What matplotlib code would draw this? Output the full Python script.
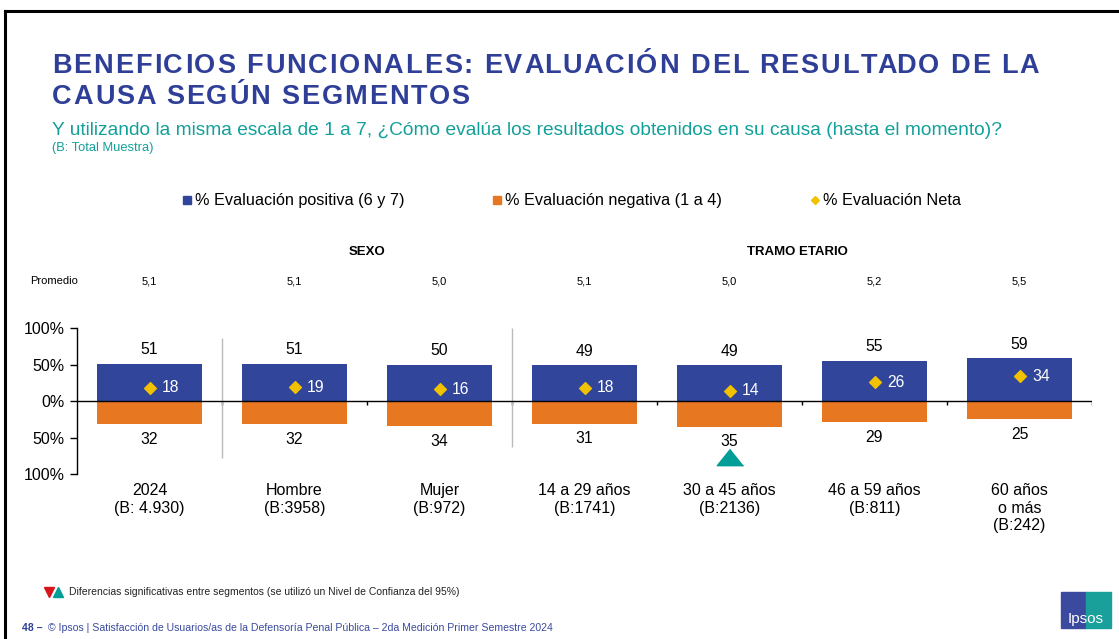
import matplotlib
matplotlib.use("Agg")
import matplotlib.pyplot as plt
import matplotlib.transforms as mtransforms
from matplotlib.lines import Line2D
from matplotlib.patches import Rectangle

plt.rcParams['font.family'] = ['Liberation Sans', 'DejaVu Sans']

# Data
categories = ["2024\n(B: 4.930)", "Hombre\n(B:3958)", "Mujer\n(B:972)",
              "14 a 29 años\n(B:1741)", "30 a 45 años\n(B:2136)",
              "46 a 59 años\n(B:811)", "60 años\no más\n(B:242)"]
positive = [51, 51, 50, 49, 49, 55, 59]
negative = [32, 32, 34, 31, 35, 29, 25]
net = [18, 19, 16, 18, 14, 26, 34]
promedio = ["5,1", "5,1", "5,0", "5,1", "5,0", "5,2", "5,5"]
significance = ["", "", "", "", "up", "", ""]
yticks = [-100, -50, 0, 50, 100]
ytick_labels = ["100%", "50%", "0%", "50%", "100%"]

BLUE = "#31469b"
ORANGE = "#e87722"
YELLOW = "#f2c200"
TITLE_BLUE = "#2f3f98"
TEAL = "#12a09a"

W, H = 1119, 639
fig = plt.figure(figsize=(W / 100, H / 100), dpi=100)
renderer = fig.canvas.get_renderer()


def fx(px):
    return px / W


def fy(py):
    return 1 - py / H


def text_width(s, **kw):
    t = fig.text(0, 0, s, **kw)
    w = t.get_window_extent(renderer).width
    t.remove()
    return w


def spaced_text(x, y, s, spacing, **kw):
    """draw text with extra letter spacing (pixels)"""
    ref = text_width("I", **kw)
    for k, ch in enumerate(s):
        if ch == " ":
            continue
        off = text_width(s[:k] + "I", **kw) - ref if k else 0
        fig.text(fx(x + off + k * spacing), fy(y), ch, va="center", **kw)


# slide frame
fig.add_artist(Line2D([fx(5), 1], [fy(11), fy(11)], color="black", lw=2.2))
fig.add_artist(Line2D([fx(5), fx(5)], [fy(11), 0], color="black", lw=2.2))

# titles
title_kw = dict(fontsize=19.5, fontweight="bold", color=TITLE_BLUE)
spaced_text(52, 66, "BENEFICIOS FUNCIONALES: EVALUACIÓN DEL RESULTADO DE LA", 1.9, **title_kw)
spaced_text(52, 97, "CAUSA SEGÚN SEGMENTOS", 1.9, **title_kw)
fig.text(fx(52), fy(130),
         "Y utilizando la misma escala de 1 a 7, ¿Cómo evalúa los resultados obtenidos en su causa (hasta el momento)?",
         fontsize=13.8, color=TEAL, va="center")
fig.text(fx(52), fy(148), "(B: Total Muestra)", fontsize=9.3, color=TEAL, va="center")

# legend
legend_items = [("s", BLUE, 187, "% Evaluación positiva (6 y 7)"),
                ("s", ORANGE, 497, "% Evaluación negativa (1 a 4)"),
                ("D", YELLOW, 815, "% Evaluación Neta")]
for mk, col, x, lab in legend_items:
    fig.add_artist(Line2D([fx(x)], [fy(200)], marker=mk, color=col,
                          markersize=5.5 if mk == "s" else 4.5, linestyle=""))
    fig.text(fx(x + 8), fy(200), lab, fontsize=11.7, va="center")

# main axes
ax = fig.add_axes([fx(77), fy(474), fx(1092) - fx(77), (474 - 328) / H])
x = list(range(len(categories)))
ax.bar(x, positive, width=0.72, color=BLUE, zorder=2)
ax.bar(x, [-v for v in negative], width=0.72, color=ORANGE, zorder=2)
ax.scatter(x, net, marker="D", s=36, color=YELLOW, zorder=4)

for i in x:
    ax.annotate(str(positive[i]), (i, positive[i]), xytext=(0, 10), textcoords="offset points",
                ha="center", va="center", fontsize=11.3, annotation_clip=False)
    ax.annotate(str(negative[i]), (i, -negative[i]), xytext=(0, -11), textcoords="offset points",
                ha="center", va="center", fontsize=11.3, annotation_clip=False)
    ax.annotate(str(net[i]), (i, net[i]), xytext=(9, 0), textcoords="offset points",
                ha="left", va="center", fontsize=11.3, color="white", zorder=5)

# significance markers
tri_up = [(0, 0.62), (-1, -0.62), (1, -0.62)]
tri_down = [(0, -0.62), (-1, 0.62), (1, 0.62)]
for i in x:
    if significance[i]:
        trans = mtransforms.offset_copy(ax.transData, fig=fig, x=0, y=-30, units="dots")
        up = significance[i] == "up"
        ax.plot([i], [-negative[i]], marker=tri_up if up else tri_down,
                markersize=19, color="#009e96" if up else "#d7141a",
                linestyle="", transform=trans, clip_on=False, zorder=5)

ax.set_xlim(-0.5, len(categories) - 0.5)
ax.set_ylim(-100, 100)
ax.set_yticks(yticks)
ax.set_yticklabels(ytick_labels, fontsize=11.5)
ax.tick_params(axis="y", length=5, width=1, pad=4)
ax.set_xticks([])
for s in ["top", "right", "bottom"]:
    ax.spines[s].set_visible(False)
ax.spines["left"].set_linewidth(1)
ax.axhline(0, color="black", lw=1, zorder=3)
ax.vlines([i + 0.5 for i in x], -5, 0, color="black", lw=1)
ax.patch.set_alpha(0)

# segment separators
ax.vlines([0.5], -78, 86, color="#bbbbbb", lw=1, clip_on=False)
ax.vlines([2.5], -63, 100, color="#bbbbbb", lw=1, clip_on=False)

# category labels and header rows
bt = mtransforms.blended_transform_factory(ax.transData, fig.transFigure)
for i in x:
    ax.text(i, fy(483), categories[i], transform=bt, ha="center", va="top",
            fontsize=11.5, linespacing=1.22)
    ax.text(i, fy(281), promedio[i], transform=bt, ha="center", va="center", fontsize=8)
fig.text(fx(30), fy(281), "Promedio", fontsize=8, va="center")
ax.text(1.5, fy(252), "SEXO", transform=bt, ha="center", va="center", fontsize=9.5, fontweight="bold")
ax.text(4.47, fy(252), "TRAMO ETARIO", transform=bt, ha="center", va="center", fontsize=9.5, fontweight="bold")

# footnote
fig.add_artist(Line2D([fx(49)], [fy(592)], marker="v", color="#d7141a", markersize=7, linestyle=""))
fig.add_artist(Line2D([fx(57.5)], [fy(592)], marker="^", color="#009e96", markersize=7, linestyle=""))
fig.text(fx(69), fy(592), "Diferencias significativas entre segmentos (se utilizó un Nivel de Confianza del 95%)",
         fontsize=7.5, va="center", color="#222222")
fig.text(fx(22), fy(628), "48 –", fontsize=7.6, fontweight="bold", color=TITLE_BLUE, va="center")
fig.text(fx(48), fy(628),
         "© Ipsos | Satisfacción de Usuarios/as de la Defensoría Penal Pública – 2da Medición Primer Semestre 2024",
         fontsize=7.6, color="#3a4a9e", va="center")

# Ipsos logo
fig.add_artist(Rectangle((fx(1061), fy(628)), fx(25), fy(592) - fy(628), color="#3b4a9e",
                         transform=fig.transFigure))
fig.add_artist(Rectangle((fx(1086), fy(628)), fx(25), fy(592) - fy(628), color="#1aa09a",
                         transform=fig.transFigure))
fig.text(fx(1086), fy(619), "Ipsos", fontsize=11, color="white", ha="center", va="center")

fig.savefig("out.png", dpi=100)
